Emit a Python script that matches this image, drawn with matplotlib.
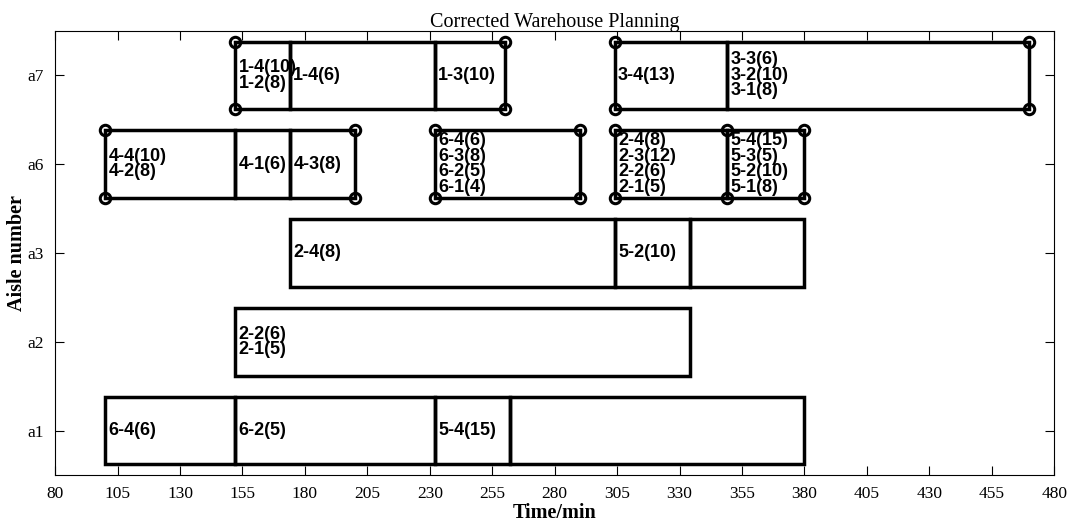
import matplotlib.pyplot as plt
from matplotlib.patches import Rectangle

# aisle rows, bottom to top
aisles = ["a1", "a2", "a3", "a6", "a7"]

# picking tasks per aisle: (start, end, order labels)
a1_tasks = [(100, 152, ["6-4(6)"]), (152, 232, ["6-2(5)"]),
            (232, 262, ["5-4(15)"]), (262, 380, [])]
a2_tasks = [(152, 334, ["2-2(6)", "2-1(5)"])]
a3_tasks = [(174, 304, ["2-4(8)"]), (304, 334, ["5-2(10)"]), (334, 380, [])]
a6_tasks = [(100, 152, ["4-4(10)", "4-2(8)"]), (152, 174, ["4-1(6)"]),
            (174, 200, ["4-3(8)"]),
            (232, 290, ["6-4(6)", "6-3(8)", "6-2(5)", "6-1(4)"]),
            (304, 349, ["2-4(8)", "2-3(12)", "2-2(6)", "2-1(5)"]),
            (349, 380, ["5-4(15)", "5-3(5)", "5-2(10)", "5-1(8)"])]
a7_tasks = [(152, 174, ["1-4(10)", "1-2(8)"]), (174, 232, ["1-4(6)"]),
            (232, 260, ["1-3(10)"]), (304, 349, ["3-4(13)"]),
            (349, 470, ["3-3(6)", "3-2(10)", "3-1(8)"])]
rows = [a1_tasks, a2_tasks, a3_tasks, a6_tasks, a7_tasks]

# corrected batch boundaries (circled corners)
a6_marks = [100, 200, 232, 290, 304, 349, 380]
a7_marks = [152, 260, 304, 470]
marks = {3: a6_marks, 4: a7_marks}

xticks = list(range(80, 481, 25))
half = 0.38

fig = plt.figure(figsize=(10.71, 5.31), dpi=100)
ax = fig.add_axes([0.0514, 0.1055, 0.9330, 0.8361])

for r, tasks in enumerate(rows):
    y = r + 1
    for start, end, labels in tasks:
        ax.add_patch(Rectangle((start, y - half), end - start, 2 * half,
                               fill=False, edgecolor="black", lw=2.5, zorder=3))
        n = len(labels)
        for k, lab in enumerate(labels):
            off = ((n - 1) / 2 - k) * 11.2
            ax.annotate(lab, (start, y), xytext=(2.5, off), textcoords="offset points",
                        ha="left", va="center", fontsize=13, fontweight="bold",
                        family="Liberation Sans", zorder=2)
    if r in marks:
        xs = marks[r]
        ax.plot(xs, [y + half] * len(xs), "o", ms=7.5, mfc="none", mec="black",
                mew=2.2, zorder=4)
        ax.plot(xs, [y - half] * len(xs), "o", ms=7.5, mfc="none", mec="black",
                mew=2.2, zorder=4)

ax.set_xlim(80, 480)
ax.set_ylim(0.5, 5.5)
ax.set_xticks(xticks)
ax.set_yticks(range(1, len(aisles) + 1))
ax.set_yticklabels(aisles)
ax.tick_params(direction="in", length=6.5, width=0.8, top=True, right=True,
               labelsize=12.5)
ax.tick_params(axis="x", pad=8)
ax.tick_params(axis="y", pad=8)
for lab in ax.get_xticklabels() + ax.get_yticklabels():
    lab.set_family("Liberation Serif")
for s in ax.spines.values():
    s.set_linewidth(0.8)

ax.set_xlabel("Time/min", family="Liberation Serif", fontweight="bold", fontsize=14.5,
              labelpad=1)
ax.set_ylabel("Aisle number", family="Liberation Serif", fontweight="bold", fontsize=14.5,
              labelpad=0)
ax.set_title("Corrected Warehouse Planning", family="Liberation Serif", fontsize=14.5,
             pad=3)

fig.savefig("out.png", dpi=100)
